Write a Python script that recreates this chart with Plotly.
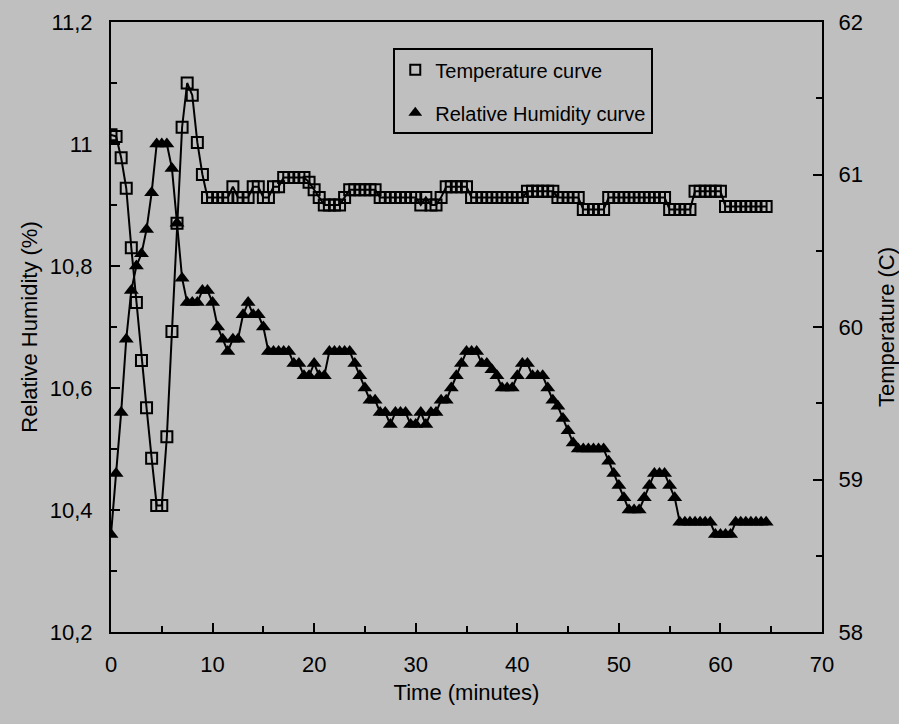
import plotly.graph_objects as go

# ---- data ----
time_min = [i * 0.5 for i in range(130)]  # 0 .. 64.5 minutes

temperature = [
    61.26, 61.25, 61.11, 60.91, 60.52, 60.16, 59.78, 59.47, 59.14, 58.83,   # 0 - 4.5
    58.83, 59.28, 59.97, 60.68, 61.31, 61.60, 61.52, 61.21, 61.00, 60.85,   # 5 - 9.5
    60.85, 60.85, 60.85, 60.85, 60.92, 60.85, 60.85, 60.85, 60.92, 60.92,   # 10 - 14.5
    60.85, 60.85, 60.92, 60.92, 60.98, 60.98, 60.98, 60.98, 60.98, 60.95,   # 15 - 19.5
    60.90, 60.85, 60.80, 60.80, 60.80, 60.80, 60.85, 60.90, 60.90, 60.90,   # 20 - 24.5
    60.90, 60.90, 60.90, 60.85, 60.85, 60.85, 60.85, 60.85, 60.85, 60.85,   # 25 - 29.5
    60.85, 60.80, 60.85, 60.80, 60.80, 60.85, 60.92, 60.92, 60.92, 60.92,   # 30 - 34.5
    60.92, 60.85, 60.85, 60.85, 60.85, 60.85, 60.85, 60.85, 60.85, 60.85,   # 35 - 39.5
    60.85, 60.85, 60.89, 60.89, 60.89, 60.89, 60.89, 60.89, 60.85, 60.85,   # 40 - 44.5
    60.85, 60.85, 60.85, 60.77, 60.77, 60.77, 60.77, 60.77, 60.85, 60.85,   # 45 - 49.5
    60.85, 60.85, 60.85, 60.85, 60.85, 60.85, 60.85, 60.85, 60.85, 60.85,   # 50 - 54.5
    60.77, 60.77, 60.77, 60.77, 60.77, 60.89, 60.89, 60.89, 60.89, 60.89,   # 55 - 59.5
    60.89, 60.79, 60.79, 60.79, 60.79, 60.79, 60.79, 60.79, 60.79, 60.79,   # 60 - 64.5
]

humidity = [
    10.36, 10.46, 10.56, 10.68, 10.76, 10.80, 10.82, 10.86, 10.92, 11.00,   # 0 - 4.5
    11.00, 11.00, 10.96, 10.87, 10.78, 10.74, 10.74, 10.74, 10.76, 10.76,   # 5 - 9.5
    10.74, 10.70, 10.68, 10.66, 10.68, 10.68, 10.72, 10.74, 10.72, 10.72,   # 10 - 14.5
    10.70, 10.66, 10.66, 10.66, 10.66, 10.66, 10.64, 10.64, 10.62, 10.62,   # 15 - 19.5
    10.64, 10.62, 10.62, 10.66, 10.66, 10.66, 10.66, 10.66, 10.64, 10.62,   # 20 - 24.5
    10.60, 10.58, 10.58, 10.56, 10.56, 10.54, 10.56, 10.56, 10.56, 10.54,   # 25 - 29.5
    10.54, 10.56, 10.54, 10.56, 10.56, 10.58, 10.58, 10.60, 10.62, 10.64,   # 30 - 34.5
    10.66, 10.66, 10.66, 10.64, 10.64, 10.63, 10.62, 10.60, 10.60, 10.60,   # 35 - 39.5
    10.62, 10.64, 10.64, 10.62, 10.62, 10.62, 10.60, 10.58, 10.57, 10.55,   # 40 - 44.5
    10.53, 10.51, 10.50, 10.50, 10.50, 10.50, 10.50, 10.50, 10.48, 10.46,   # 45 - 49.5
    10.44, 10.42, 10.40, 10.40, 10.40, 10.42, 10.44, 10.46, 10.46, 10.46,   # 50 - 54.5
    10.44, 10.42, 10.38, 10.38, 10.38, 10.38, 10.38, 10.38, 10.38, 10.36,   # 55 - 59.5
    10.36, 10.36, 10.36, 10.38, 10.38, 10.38, 10.38, 10.38, 10.38, 10.38,   # 60 - 64.5
]

x_ticks = [0, 10, 20, 30, 40, 50, 60, 70]
rh_tickvals = [10.2, 10.4, 10.6, 10.8, 11.0, 11.2]
rh_ticktext = ["10,2", "10,4", "10,6", "10,8", "11", "11,2"]
t_tickvals = [58, 59, 60, 61, 62]
t_ticktext = ["58", "59", "60", "61", "62"]

bg = "#bfbfbf"
font_family = "Liberation Sans, Arial, sans-serif"

fig = go.Figure()

fig.add_trace(go.Scatter(
    x=time_min, y=temperature, yaxis="y2", mode="lines+markers",
    line=dict(color="black", width=2),
    marker=dict(symbol="square-open", size=11, color="black", line=dict(width=2, color="black")),
    showlegend=False,
))
fig.add_trace(go.Scatter(
    x=time_min, y=humidity, yaxis="y", mode="lines+markers",
    line=dict(color="black", width=2),
    marker=dict(symbol="triangle-up", size=13, color="black"),
    showlegend=False,
))
# legend entries (markers only, as in the reference)
fig.add_trace(go.Scatter(
    x=[None], y=[None], mode="markers", name="Temperature curve", legendgroup="t",
    marker=dict(symbol="square-open", size=10, color="black", line=dict(width=2, color="black")),
))
fig.add_trace(go.Scatter(
    x=[None], y=[None], mode="markers", name="Relative Humidity curve", legendgroup="h",
    marker=dict(symbol="triangle-up", size=12, color="black"),
))

axis_font = dict(family=font_family, size=22, color="black")
title_font = dict(family=font_family, size=22, color="black")

fig.update_layout(
    width=899, height=724,
    margin=dict(l=111, r=77, t=22, b=92),
    paper_bgcolor=bg, plot_bgcolor=bg,
    font=dict(family=font_family, color="black"),
    xaxis=dict(
        range=[0, 70], tickvals=x_ticks, ticks="inside", ticklen=9, tickwidth=2,
        tickcolor="black", showline=True, linecolor="black", linewidth=2, mirror=True,
        showgrid=False, zeroline=False, tickfont=axis_font, ticklabelstandoff=12,
        automargin=False,
        minor=dict(dtick=5, ticks="inside", ticklen=6, tickwidth=2, tickcolor="black"),
        title=dict(text="Time (minutes)", font=title_font, standoff=8),
    ),
    yaxis=dict(
        range=[10.2, 11.2], tickvals=rh_tickvals, ticktext=rh_ticktext,
        ticks="inside", ticklen=9, tickwidth=2, tickcolor="black",
        showline=True, linecolor="black", linewidth=2, showgrid=False, zeroline=False,
        tickfont=axis_font, ticklabelstandoff=12, automargin=False,
        minor=dict(tickvals=[10.3, 10.5, 10.7, 10.9, 11.1], ticks="inside", ticklen=6,
                   tickwidth=2, tickcolor="black"),
        title=dict(text="Relative Humidity (%)", font=title_font, standoff=6),
    ),
    yaxis2=dict(
        range=[58, 62], overlaying="y", side="right", tickvals=t_tickvals, ticktext=t_ticktext,
        ticks="inside", ticklen=9, tickwidth=2, tickcolor="black",
        showline=True, linecolor="black", linewidth=2, showgrid=False, zeroline=False,
        tickfont=axis_font, ticklabelstandoff=10, automargin=False,
        minor=dict(tickvals=[58.5, 59.5, 60.5, 61.5], ticks="inside", ticklen=6,
                   tickwidth=2, tickcolor="black"),
        title=dict(text="Temperature (C)", font=title_font, standoff=24),
    ),
    legend=dict(
        x=0.397, y=0.957, xanchor="left", yanchor="top",
        bgcolor="rgba(0,0,0,0)", bordercolor="black", borderwidth=2,
        font=dict(family=font_family, size=20, color="black"),
        itemwidth=30, tracegroupgap=14,
    ),
)

fig.write_html(
    "out.html",
    config={"displayModeBar": False},
    post_script="document.body.style.margin='0';document.body.style.background='%s';" % bg,
)
